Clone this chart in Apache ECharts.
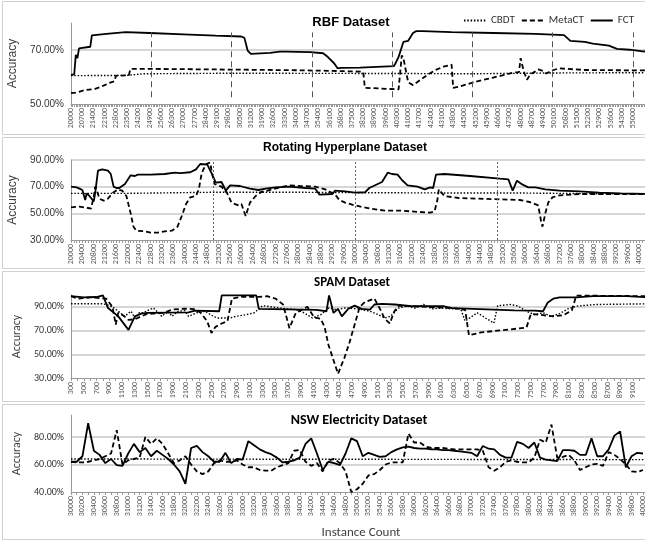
<!DOCTYPE html>
<html><head><meta charset="utf-8">
<script src="https://cdn.jsdelivr.net/npm/echarts@6/dist/echarts.min.js"></script>
<style>html,body{margin:0;padding:0;background:#fff}#c{width:645px;height:542px}</style>
</head><body><div id="c"></div>
<script>
const seriesNames = ['CBDT', 'MetaCT', 'FCT'];

// ---------- RBF Dataset ----------
const rbfCBDT = [[20000,60.5],[23500,60.6],[24500,61.2],[30000,61.4],[40000,61.3],[45000,61.2],[50000,61.5],[56200,61.6]];
const rbfMetaCT = [[20000,54],[20300,54.2],[20900,55.2],[21500,55.6],[21800,56.2],[22100,57],[22400,57.8],[22700,58.4],[22800,60.5],[23600,60.6],[23700,63],[25000,63],[27000,62.9],[30800,62.7],[34000,62.5],[36000,62.3],[38000,62],[38200,61.8],[38300,56],[40400,55.4],[40500,55],[40600,68],[40700,67],[41000,58],[41300,57],[42200,60.8],[42700,62.6],[43200,63.8],[43700,64.6],[43800,56],[44200,56.5],[45300,58.4],[46300,59.8],[46800,60.5],[47600,61.7],[47900,61.8],[48000,67],[48200,62],[48400,59],[48600,61],[48900,62],[49100,62.8],[49400,62.2],[49600,61.3],[50000,62.5],[50400,63.2],[50900,63],[52000,62.6],[56200,62.4]];
const rbfFCT = [[20000,60.8],[20200,61],[20300,68.2],[20400,67],[20500,70.6],[21200,71.2],[21300,75.4],[22200,76],[22300,76.6],[23400,76.6],[24900,76.3],[27000,75.8],[29000,75.3],[30600,75],[30800,74.5],[31000,69.8],[31200,68.6],[32400,68.9],[33000,69.4],[33400,69.4],[34900,69.2],[35700,68.8],[36000,67.4],[36400,65],[36600,63.2],[36800,63.4],[38000,63.5],[40100,64],[40200,65],[40400,67.4],[40700,73],[41000,73.4],[41300,76.3],[41500,77],[41900,77],[43700,76.6],[46300,76.3],[48900,76],[50700,75.5],[51100,73.4],[52000,73],[52500,72.4],[53500,71.6],[54000,70.4],[54800,70.1],[55600,69.5],[56200,69.3]];
const rbfDrifts = [25000,30000,35000,40000,45000,50000,55000];

// ---------- Rotating Hyperplane Dataset ----------
const hypCBDT = [[20000,65],[22000,65],[25000,65.8],[28000,65.8],[30000,65.5],[33000,65.3],[36000,65.2],[38000,64.8],[40500,64.5]];
const hypMetaCT = [[20000,54.5],[20300,55],[20600,54],[20700,53.5],[20800,62],[20850,70],[20900,68],[21000,61],[21150,59.5],[21300,61],[21450,65],[21650,68],[21800,67],[21950,63],[22100,50],[22200,40],[22300,37],[22600,36.5],[22800,35.5],[23050,35.5],[23300,36.5],[23550,37],[23750,40],[23900,48],[24050,57],[24200,62],[24400,63],[24500,68],[24600,80],[24750,87],[24900,88],[24950,82],[25050,72],[25300,70],[25500,65],[25650,58],[25900,56],[26000,57],[26150,48],[26300,58],[26500,63],[26700,66],[27000,67.5],[27350,69.5],[27700,71],[28050,70.5],[28600,70],[28950,68],[29300,64],[29450,60],[29650,58],[29900,56.5],[30000,56],[30200,55],[30550,53.5],[31050,52],[31600,52],[32300,51],[32650,50.5],[32800,51.5],[32900,60],[32950,68],[33150,63],[33650,61.5],[34350,61],[35100,60.5],[35800,60],[36150,58.5],[36450,56],[36550,44],[36600,40],[36700,50],[36800,58],[36950,62],[37200,63.5],[37900,64.5],[40500,64.5]];
const hypFCT = [[20000,70],[20200,69.5],[20300,68.5],[20400,67.5],[20500,60],[20550,65],[20650,63],[20800,59],[20850,65],[20950,82],[21100,83],[21300,82],[21400,79.5],[21500,70],[21600,69],[21700,69],[21900,72],[22100,78.5],[22250,78],[22350,79],[22800,79],[23300,79.5],[23650,80.5],[23850,80.2],[24200,80.8],[24400,83],[24550,87],[24800,86.5],[24950,80],[25100,73],[25300,73.5],[25450,67],[25600,71],[25950,70.5],[26300,68.5],[26600,67.5],[26850,68.5],[27200,69.5],[27700,70],[28250,69],[28600,68.5],[28750,64],[29200,64.5],[29300,67],[29650,66.5],[30000,65.5],[30350,65.8],[30500,69],[30800,72],[30950,73.5],[31150,80.5],[31300,79.5],[31500,79],[31650,75],[31850,71],[32200,70],[32450,68],[32650,69.5],[32750,69],[32850,79],[33150,79.5],[34050,78],[35100,76],[35400,75.5],[35550,67],[35700,74.5],[35900,71.5],[36100,69.5],[36350,69.5],[36700,68],[37200,67],[37900,66.5],[38600,65.5],[39350,65],[40500,64.5]];
const hypDrifts = [25000,30000,35000];

// ---------- SPAM Dataset ----------
const spamCBDT = [[300,92.6],[780,92.6],[850,92],[950,90],[1040,86.3],[1140,82],[1240,86.3],[1300,80.6],[1370,85],[1430,85],[1530,87.7],[1590,89],[1660,85.4],[1720,82],[1820,86.3],[1880,82],[1980,86.3],[2080,86.9],[2140,82],[2270,85],[2400,86.3],[2530,82],[2590,80.6],[2790,80.6],[2880,82],[3040,83.4],[3170,85],[3300,91],[3560,89],[3820,87.7],[3950,85],[4080,80.6],[4210,83.4],[4340,89],[4460,87.7],[4590,89],[4790,88.3],[4980,86.3],[5110,83.4],[5210,80.6],[5300,82],[5430,89],[5560,90.6],[5690,89],[5820,92],[5950,88.3],[6080,89],[6270,88.3],[6400,88.3],[6470,78],[6660,85],[6790,80.6],[6920,76.3],[6980,91],[7180,92],[7300,90.6],[7430,86.3],[7560,83.4],[7690,85],[7820,82],[7950,84.3],[8080,88.3],[8210,90.6],[8530,92],[9400,92.6]];
const spamMetaCT = [[300,99],[400,96.9],[600,98],[850,97],[950,90],[1000,75],[1040,85],[1110,83],[1200,79],[1300,79.5],[1400,82],[1490,84],[1750,85],[1880,87.7],[2080,88.5],[2240,88],[2330,85],[2430,78],[2500,68],[2560,73],[2660,76],[2750,78],[2820,97],[2980,98.5],[3240,98.5],[3370,99],[3500,97],[3620,92],[3720,72],[3820,85],[4000,90],[4110,81],[4210,80],[4270,73],[4330,58],[4410,45],[4480,33.5],[4580,47],[4660,60],[4740,75],[4820,90],[4900,94],[5050,97],[5140,88],[5210,80],[5290,76],[5360,86],[5430,91],[6270,89],[6470,87.5],[6530,66],[6720,68.5],[7180,71],[7430,72.5],[7500,84],[7690,83],[7850,82],[8010,83],[8140,87],[8210,99.5],[9400,99]];
const spamFCT = [[300,99],[500,98],[700,98.3],[800,99.7],[880,89],[1040,82],[1200,70.6],[1300,82],[1400,84.3],[1500,85],[2140,85.4],[2240,86.9],[2620,86.3],[2660,99.7],[3200,99.7],[3240,88.3],[4140,87.5],[4300,86.3],[4340,99.7],[4410,84.9],[4480,88.3],[4540,82],[4640,88.3],[4740,91],[4850,88.3],[4980,87.7],[5050,92],[5170,92.6],[5370,92],[5630,90.6],[6140,90.5],[6270,89],[6920,87.7],[7240,87],[7560,86.8],[7690,86.3],[7760,93.4],[7850,96.9],[7950,98],[8210,98],[8470,99],[9000,99],[9400,98]];

// ---------- NSW Electricity Dataset (one reading every 100 instances) ----------
const nswStart = 30000, nswStep = 100;
const nswCBDT = [[30000,64],[35000,63.8],[40200,63.5]];
const nswMetaCT = [62,61.5,61.5,62,63,64,66,68,85,60,
  63,64,65,80,75,79,75,68,61,63,
  66,60,55,53,55,61,63,62,62,63,
  60,58,58,56,55.5,55.5,58,59.5,61,70,
  70.5,62,59,61,55,63,64,61,55,40,
  42,46,52,53,56,60,61.5,61.5,61.5,82.5,
  76,76,73,72,72,72,71.5,71,71,71,
  71,71,70,58,55.5,58,62,63,62,61.5,
  61.5,65,78,76,89,65,65.5,67,63,56,
  58,60,60.5,59,69,67,64,60,55,54.5,
  56];
const nswFCT = [62,62,66,90,70,67,61,64,59.5,59,
  68,75,69,72,66,70,67,64,60,55,
  46,72,73.5,69,66,62,62,68.5,61,64,
  63.5,77,74,71,69,67.5,65,61.5,62,63,
  65,75,79,68,56,62,61,59.5,68,79,
  77,66,68.5,67,65.5,66,69,71,72.5,73,
  72,71.5,71.5,71,71,70.5,70.5,70,69.5,69,
  68.5,66,73.5,71.5,71,67,65,65,76.5,75,
  72,76,65,63.5,63,62.5,70.5,70.5,70,67,
  67,79,66,66,71,81,84,58,66,68.5,
  68];
function withX(vals) { return vals.map((v, i) => [nswStart + i * nswStep, v]); }

const FONT_A = '"Liberation Sans", Arial, sans-serif';
const FONT_C = 'Carlito, "Liberation Sans Narrow", "Liberation Sans", sans-serif';

const panels = [
  {title:'RBF Dataset', tx:351, ty:22, tfont:'bold 13px ' + FONT_A, top:23, height:81,
   xmin:20000, xmax:56120, xint:700, xminor:7, xlast:55000, ymin:50, ymax:80, yint:20, maxLine:false,
   data:[rbfCBDT, rbfMetaCT, rbfFCT]},
  {title:'Rotating Hyperplane Dataset', tx:345, ty:148, tfont:'bold 12px ' + FONT_A, top:160, height:80,
   xmin:20000, xmax:40420, xint:400, xminor:4, xlast:40000, ymin:30, ymax:90, yint:20, maxLine:true,
   data:[hypCBDT, hypMetaCT, hypFCT]},
  {title:'SPAM Dataset', tx:352, ty:283, tfont:'bold 13px ' + FONT_C, top:295, height:83,
   xmin:300, xmax:9380, xint:200, xminor:2, xlast:9100, ymin:30, ymax:100, yint:20, maxLine:false,
   data:[spamCBDT, spamMetaCT, spamFCT]},
  {title:'NSW Electricity Dataset', tx:359, ty:420, tfont:'bold 14px ' + FONT_C, top:415, height:77,
   xmin:30000, xmax:40140, xint:200, xminor:2, xlast:40000, ymin:40, ymax:96, yint:20, maxLine:false,
   data:[nswCBDT, withX(nswMetaCT), withX(nswFCT)]}
];

const lineStyles = [
  {color:'#000', width:1.4, type:[1.5,1.8]},
  {color:'#000', width:1.8, type:[5,3]},
  {color:'#000', width:1.8, type:'solid'}
];

const grid = [], xAxis = [], yAxis = [], series = [], graphic = [];
const frames = [[1,133],[137,131],[271,130],[404,135]];
frames.forEach(f => graphic.push({type:'rect', silent:true, z:-10,
  shape:{x:2.5, y:f[0] + 0.5, width:700, height:f[1]},
  style:{fill:'none', stroke:'#d0d0d0', lineWidth:1}}));

panels.forEach((p, k) => {
  grid.push({left:71, top:p.top, width:580, height:p.height, containLabel:false, outerBoundsMode:'none'});
  const last = p.xlast;
  xAxis.push({type:'value', gridIndex:k, min:p.xmin, max:p.xmax, interval:p.xint,
    axisLine:{show:true, lineStyle:{color:'#9a9a9a', width:1}},
    axisTick:{show:true, length:3, lineStyle:{color:'#9a9a9a'}},
    minorTick:{show:true, splitNumber:p.xminor, length:3, lineStyle:{color:'#9a9a9a'}},
    splitLine:{show:false}, minorSplitLine:{show:false},
    axisLabel:{show:true, rotate:90, margin:4, fontSize:8, color:'#595959', fontFamily:FONT_C,
      showMinLabel:true, showMaxLabel:false, hideOverlap:false,
      formatter: v => (v <= last ? String(v) : '')},
    name: k === 3 ? 'Instance Count' : '', nameLocation:'middle', nameGap:34,
    nameTextStyle:{fontSize:13, color:'#404040', fontFamily:FONT_C}});
  yAxis.push({type:'value', gridIndex:k, min:p.ymin, max:p.ymax, interval:p.yint,
    axisLine:{show:true, lineStyle:{color:'#9a9a9a', width:1}},
    axisTick:{show:false},
    splitLine:{show:true, showMinLine:false, showMaxLine:p.maxLine, lineStyle:{color:'#c8c8c8', width:1.5}},
    axisLabel:{show:true, margin:7, fontSize:10, color:'#333', fontFamily: k < 2 ? FONT_A : FONT_C,
      showMaxLabel:p.maxLine, formatter: v => v.toFixed(2) + '%'},
    name:'Accuracy', nameLocation:'middle', nameRotate:90, nameGap:40,
    nameTextStyle:{fontSize:12, color:'#404040', fontFamily: k < 2 ? FONT_A : FONT_C}});
  p.data.forEach((d, s) => {
    const ser = {type:'line', name:seriesNames[s], xAxisIndex:k, yAxisIndex:k, data:d,
      symbol:'none', showSymbol:false, lineStyle:lineStyles[s], itemStyle:{color:'#000'},
      animation:false, silent:true, z: 2 + s};
    if (s === 0 && k === 0) {
      ser.markLine = {silent:true, symbol:['none','none'], label:{show:false},
        lineStyle:{color:'#555', width:1, type:[6,4]},
        data: rbfDrifts.map(x => [{coord:[x, 52.5]}, {coord:[x, 76.5]}])};
    }
    if (s === 0 && k === 1) {
      ser.markLine = {silent:true, symbol:['none','none'], label:{show:false},
        lineStyle:{color:'#666', width:1, type:[2,2]},
        data: hypDrifts.map(x => ({xAxis:x}))};
    }
    series.push(ser);
  });
  graphic.push({type:'text', silent:true, x:p.tx, y:p.ty,
    style:{text:p.title, font:p.tfont, fill:'#000', align:'center', verticalAlign:'middle'}});
});

const chart = echarts.init(document.getElementById('c'), null, {renderer:'canvas'});
chart.setOption({
  animation:false,
  backgroundColor:'#fff',
  grid, xAxis, yAxis, series, graphic,
  legend:{show:true, data:seriesNames, left:458, top:10, width:260, itemWidth:22, itemHeight:4, itemGap:6,
    itemStyle:{opacity:0},
    textStyle:{fontSize:11, color:'#333', fontFamily:FONT_C}, selectedMode:false}
});
</script></body></html>
